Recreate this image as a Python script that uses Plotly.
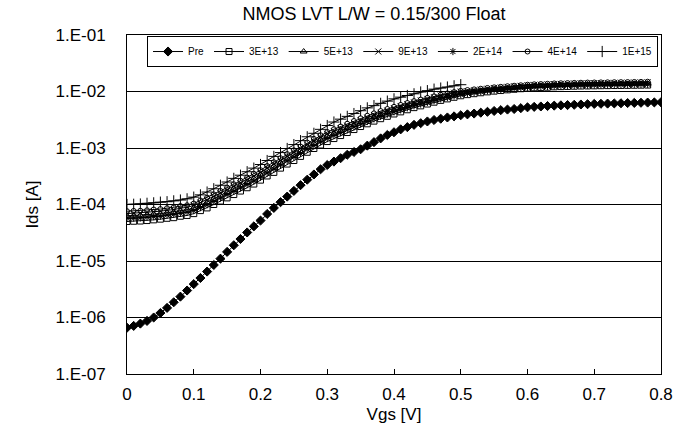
import plotly.graph_objects as go

vgs_full = [round(i * 0.01, 2) for i in range(81)]
vgs_band = vgs_full[:79]
vgs_1e15 = vgs_full[:51]

ids_pre = [6.6e-7, 7.1e-7, 7.8e-7, 8.7e-7, 1.0e-6, 1.2e-6, 1.48e-6, 1.86e-6, 2.34e-6, 3.0e-6,
           3.9e-6, 5.0e-6, 6.5e-6, 8.5e-6, 1.1e-5, 1.45e-5, 1.9e-5, 2.45e-5, 3.2e-5, 4.1e-5,
           5.2e-5, 6.8e-5, 8.7e-5, 1.1e-4, 1.38e-4, 1.74e-4, 2.2e-4, 2.75e-4, 3.4e-4, 4.2e-4,
           5.0e-4, 5.75e-4, 6.6e-4, 7.6e-4, 8.5e-4, 9.5e-4, 1.1e-3, 1.27e-3, 1.48e-3, 1.7e-3,
           1.9e-3, 2.14e-3, 2.34e-3, 2.57e-3, 2.75e-3, 2.95e-3, 3.13e-3, 3.3e-3, 3.47e-3, 3.63e-3,
           3.8e-3, 3.94e-3, 4.07e-3, 4.22e-3, 4.37e-3, 4.52e-3, 4.68e-3, 4.79e-3, 4.9e-3, 5.07e-3,
           5.25e-3, 5.35e-3, 5.43e-3, 5.53e-3, 5.62e-3, 5.69e-3, 5.75e-3, 5.82e-3, 5.89e-3, 5.96e-3,
           6.03e-3, 6.07e-3, 6.11e-3, 6.15e-3, 6.19e-3, 6.24e-3, 6.28e-3, 6.32e-3, 6.37e-3, 6.41e-3,
           6.46e-3]

ids_3e13 = [5.0e-5, 5.05e-5, 5.1e-5, 5.2e-5, 5.35e-5, 5.5e-5, 5.7e-5, 5.85e-5, 6.2e-5, 6.4e-5,
            6.9e-5, 7.8e-5, 8.7e-5, 1.0e-4, 1.15e-4, 1.31e-4, 1.5e-4, 1.73e-4, 1.98e-4, 2.3e-4,
            2.7e-4, 3.2e-4, 3.7e-4, 4.4e-4, 5.2e-4, 6.0e-4, 7.1e-4, 8.4e-4, 9.8e-4, 1.13e-3,
            1.3e-3, 1.47e-3, 1.66e-3, 1.88e-3, 2.12e-3, 2.4e-3, 2.68e-3, 2.99e-3, 3.3e-3, 3.64e-3,
            4.0e-3, 4.36e-3, 4.75e-3, 5.18e-3, 5.57e-3, 6.0e-3, 6.47e-3, 6.96e-3, 7.4e-3, 7.9e-3,
            8.4e-3, 8.8e-3, 9.15e-3, 9.5e-3, 9.85e-3, 1.015e-2, 1.04e-2, 1.07e-2, 1.095e-2, 1.12e-2,
            1.15e-2, 1.165e-2, 1.18e-2, 1.19e-2, 1.21e-2, 1.22e-2, 1.23e-2, 1.24e-2, 1.25e-2, 1.255e-2,
            1.26e-2, 1.265e-2, 1.27e-2, 1.275e-2, 1.28e-2, 1.285e-2, 1.29e-2, 1.295e-2, 1.30e-2]

ids_5e13 = [6.3e-5, 6.4e-5, 6.45e-5, 6.6e-5, 6.8e-5, 6.9e-5, 7.2e-5, 7.4e-5, 7.8e-5, 8.1e-5,
            8.7e-5, 9.8e-5, 1.10e-4, 1.26e-4, 1.45e-4, 1.66e-4, 1.9e-4, 2.19e-4, 2.5e-4, 2.9e-4,
            3.4e-4, 4.0e-4, 4.7e-4, 5.5e-4, 6.5e-4, 7.6e-4, 8.9e-4, 1.05e-3, 1.22e-3, 1.41e-3,
            1.62e-3, 1.82e-3, 2.04e-3, 2.29e-3, 2.57e-3, 2.88e-3, 3.2e-3, 3.55e-3, 3.9e-3, 4.27e-3,
            4.68e-3, 5.07e-3, 5.5e-3, 5.96e-3, 6.38e-3, 6.84e-3, 7.33e-3, 7.85e-3, 8.3e-3, 8.8e-3,
            9.3e-3, 9.7e-3, 1.0e-2, 1.035e-2, 1.07e-2, 1.10e-2, 1.12e-2, 1.15e-2, 1.175e-2, 1.20e-2,
            1.23e-2, 1.245e-2, 1.26e-2, 1.27e-2, 1.29e-2, 1.30e-2, 1.31e-2, 1.32e-2, 1.33e-2, 1.335e-2,
            1.34e-2, 1.345e-2, 1.35e-2, 1.355e-2, 1.36e-2, 1.365e-2, 1.37e-2, 1.375e-2, 1.38e-2]

ids_9e13 = [6.9e-5, 7.0e-5, 7.1e-5, 7.25e-5, 7.5e-5, 7.6e-5, 7.9e-5, 8.1e-5, 8.6e-5, 8.9e-5,
            9.6e-5, 1.08e-4, 1.21e-4, 1.39e-4, 1.6e-4, 1.83e-4, 2.09e-4, 2.4e-4, 2.75e-4, 3.2e-4,
            3.7e-4, 4.4e-4, 5.2e-4, 6.0e-4, 7.1e-4, 8.4e-4, 9.8e-4, 1.15e-3, 1.34e-3, 1.55e-3,
            1.78e-3, 1.98e-3, 2.22e-3, 2.48e-3, 2.78e-3, 3.1e-3, 3.45e-3, 3.83e-3, 4.2e-3, 4.6e-3,
            5.05e-3, 5.47e-3, 5.94e-3, 6.4e-3, 6.9e-3, 7.4e-3, 7.9e-3, 8.45e-3, 8.95e-3, 9.5e-3,
            1.0e-2, 1.02e-2, 1.05e-2, 1.085e-2, 1.12e-2, 1.155e-2, 1.18e-2, 1.21e-2, 1.235e-2, 1.26e-2,
            1.29e-2, 1.31e-2, 1.32e-2, 1.335e-2, 1.355e-2, 1.365e-2, 1.375e-2, 1.385e-2, 1.395e-2, 1.40e-2,
            1.41e-2, 1.41e-2, 1.42e-2, 1.42e-2, 1.43e-2, 1.43e-2, 1.44e-2, 1.44e-2, 1.45e-2]

ids_2e14 = [5.7e-5, 5.75e-5, 5.8e-5, 5.95e-5, 6.1e-5, 6.2e-5, 6.5e-5, 6.7e-5, 7.0e-5, 7.3e-5,
            7.8e-5, 8.8e-5, 9.9e-5, 1.13e-4, 1.3e-4, 1.5e-4, 1.71e-4, 1.97e-4, 2.25e-4, 2.6e-4,
            3.05e-4, 3.6e-4, 4.25e-4, 5.0e-4, 5.9e-4, 6.9e-4, 8.0e-4, 9.5e-4, 1.1e-3, 1.28e-3,
            1.47e-3, 1.66e-3, 1.86e-3, 2.1e-3, 2.36e-3, 2.65e-3, 2.95e-3, 3.28e-3, 3.62e-3, 3.97e-3,
            4.36e-3, 4.73e-3, 5.14e-3, 5.58e-3, 5.99e-3, 6.43e-3, 6.9e-3, 7.4e-3, 7.85e-3, 8.35e-3,
            8.85e-3, 9.25e-3, 9.6e-3, 9.95e-3, 1.03e-2, 1.06e-2, 1.085e-2, 1.11e-2, 1.135e-2, 1.16e-2,
            1.19e-2, 1.205e-2, 1.22e-2, 1.23e-2, 1.25e-2, 1.26e-2, 1.27e-2, 1.28e-2, 1.29e-2, 1.295e-2,
            1.30e-2, 1.305e-2, 1.31e-2, 1.315e-2, 1.32e-2, 1.325e-2, 1.33e-2, 1.335e-2, 1.34e-2]

ids_4e14 = [7.6e-5, 7.7e-5, 7.75e-5, 7.9e-5, 8.15e-5, 8.3e-5, 8.6e-5, 8.9e-5, 9.4e-5, 9.7e-5,
            1.04e-4, 1.18e-4, 1.32e-4, 1.51e-4, 1.74e-4, 1.99e-4, 2.28e-4, 2.63e-4, 3.0e-4, 3.5e-4,
            4.05e-4, 4.8e-4, 5.6e-4, 6.6e-4, 7.8e-4, 9.1e-4, 1.06e-3, 1.25e-3, 1.45e-3, 1.68e-3,
            1.92e-3, 2.15e-3, 2.4e-3, 2.69e-3, 3.0e-3, 3.35e-3, 3.72e-3, 4.1e-3, 4.5e-3, 4.9e-3,
            5.35e-3, 5.78e-3, 6.25e-3, 6.75e-3, 7.2e-3, 7.7e-3, 8.2e-3, 8.75e-3, 9.25e-3, 9.75e-3,
            1.025e-2, 1.06e-2, 1.09e-2, 1.12e-2, 1.155e-2, 1.185e-2, 1.21e-2, 1.24e-2, 1.265e-2, 1.29e-2,
            1.32e-2, 1.34e-2, 1.355e-2, 1.37e-2, 1.39e-2, 1.40e-2, 1.41e-2, 1.42e-2, 1.43e-2, 1.44e-2,
            1.445e-2, 1.45e-2, 1.455e-2, 1.46e-2, 1.465e-2, 1.47e-2, 1.475e-2, 1.48e-2, 1.49e-2]

ids_1e15 = [1.0e-4, 1.01e-4, 1.02e-4, 1.05e-4, 1.07e-4, 1.1e-4, 1.12e-4, 1.16e-4, 1.2e-4, 1.26e-4,
            1.35e-4, 1.48e-4, 1.66e-4, 1.9e-4, 2.19e-4, 2.5e-4, 2.9e-4, 3.3e-4, 3.8e-4, 4.4e-4,
            5.1e-4, 6.0e-4, 7.1e-4, 8.3e-4, 9.8e-4, 1.15e-3, 1.35e-3, 1.58e-3, 1.82e-3, 2.14e-3,
            2.5e-3, 2.88e-3, 3.24e-3, 3.63e-3, 4.07e-3, 4.57e-3, 5.13e-3, 5.62e-3, 6.17e-3, 6.76e-3,
            7.41e-3, 7.94e-3, 8.5e-3, 9.1e-3, 9.8e-3, 1.035e-2, 1.1e-2, 1.15e-2, 1.2e-2, 1.26e-2,
            1.32e-2]

series_names = ["Pre", "3E+13", "5E+13", "9E+13", "2E+14", "4E+14", "1E+15"]
y_tickvals = [1e-7, 1e-6, 1e-5, 1e-4, 1e-3, 1e-2, 1e-1]
y_ticktext = ["1.E-07", "1.E-06", "1.E-05", "1.E-04", "1.E-03", "1.E-02", "1.E-01"]
x_tickvals = [0, 0.1, 0.2, 0.3, 0.4, 0.5, 0.6, 0.7, 0.8]
x_ticktext = ["0", "0.1", "0.2", "0.3", "0.4", "0.5", "0.6", "0.7", "0.8"]

FONT = "Liberation Sans"

styles = [
    (vgs_full, ids_pre, dict(symbol="diamond", size=7, color="black", line=dict(color="black", width=1))),
    (vgs_band, ids_3e13, dict(symbol="square-open", size=6, color="black", line=dict(color="black", width=1))),
    (vgs_band, ids_5e13, dict(symbol="triangle-up-open", size=6, color="black", line=dict(color="black", width=1))),
    (vgs_band, ids_9e13, dict(symbol="x-thin-open", size=6, color="black", line=dict(color="black", width=1))),
    (vgs_band, ids_2e14, dict(symbol="asterisk-open", size=6, color="black", line=dict(color="black", width=1))),
    (vgs_band, ids_4e14, dict(symbol="circle-open", size=5, color="black", line=dict(color="black", width=1))),
    (vgs_1e15, ids_1e15, dict(symbol="cross-thin-open", size=8, color="black", line=dict(color="black", width=1))),
]

fig = go.Figure()
for name, (xs, ys, mk) in zip(series_names, styles):
    fig.add_trace(go.Scatter(x=xs, y=ys, name=name, mode="lines+markers",
                             line=dict(color="black", width=1), marker=mk))

fig.update_layout(
    width=690, height=442,
    margin=dict(l=127, r=29, t=35, b=68),
    paper_bgcolor="white", plot_bgcolor="white",
    font=dict(family=FONT, size=17, color="black"),
    title=dict(text="NMOS LVT L/W = 0.15/300 Float", x=0.542, xanchor="center",
               y=0.97, yanchor="middle", font=dict(family=FONT, size=18, color="black")),
    showlegend=True,
    legend=dict(orientation="h", x=0.0375, y=0.997, xanchor="left", yanchor="top",
                bgcolor="white", bordercolor="black", borderwidth=1,
                font=dict(family=FONT, size=10, color="black"),
                itemwidth=30, tracegroupgap=0),
)
fig.update_xaxes(range=[0, 0.8], tickvals=x_tickvals, ticktext=x_ticktext,
                 showgrid=False, zeroline=False, showline=True, linecolor="black", linewidth=1,
                 mirror=True, ticks="inside", ticklen=5, tickcolor="black",
                 ticklabelstandoff=5, tickfont=dict(family=FONT, size=17),
                 title=dict(text="Vgs [V]", standoff=4, font=dict(family=FONT, size=17)))
fig.update_yaxes(type="log", range=[-7, -1], tickvals=y_tickvals, ticktext=y_ticktext,
                 showgrid=True, gridcolor="black", gridwidth=1, zeroline=False,
                 showline=True, linecolor="black", linewidth=1, mirror=True,
                 ticks="", ticklabelstandoff=17, tickfont=dict(family=FONT, size=17),
                 title=dict(text="Ids [A]", standoff=12, font=dict(family=FONT, size=17)))

fig.write_html("out.html", config={"displayModeBar": False},
               post_script="document.body.style.margin='0';document.body.style.padding='0';")
